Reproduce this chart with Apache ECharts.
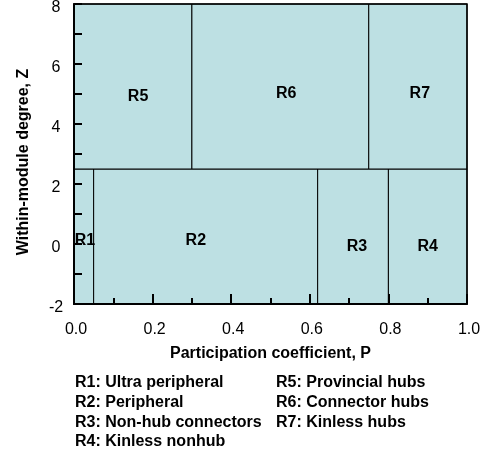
<!DOCTYPE html>
<html>
<head>
<meta charset="utf-8">
<script src="https://cdn.jsdelivr.net/npm/echarts@6/dist/echarts.min.js"></script>
<style>
html,body{margin:0;padding:0;background:#fff;}
#chart{width:487px;height:450px;}
</style>
</head>
<body>
<div id="chart"></div>
<script>
// Region data
var regionNames = ['R1', 'R2', 'R3', 'R4', 'R5', 'R6', 'R7'];
var regionX0 = [0, 0.05, 0.62, 0.80, 0, 0.30, 0.75];
var regionX1 = [0.05, 0.62, 0.80, 1.0, 0.30, 0.75, 1.0];
var regionY0 = [-2, -2, -2, -2, 2.5, 2.5, 2.5];
var regionY1 = [2.5, 2.5, 2.5, 2.5, 8, 8, 8];
var labelX = [0.028, 0.31, 0.72, 0.90, 0.163, 0.54, 0.88];
var labelY = [0.1, 0.13, -0.07, -0.07, 4.9, 5.03, 5.03];
var regionDescriptions = ['Ultra peripheral', 'Peripheral', 'Non-hub connectors', 'Kinless nonhub',
  'Provincial hubs', 'Connector hubs', 'Kinless hubs'];
var xTicks = [0, 0.2, 0.4, 0.6, 0.8, 1.0];
var yTicks = [-2, 0, 2, 4, 6, 8];

var FONT = 'Liberation Sans';
var chart = echarts.init(document.getElementById('chart'));

var rects = regionNames.map(function (n, i) {
  return [regionX0[i], regionY0[i], regionX1[i], regionY1[i]];
});
var labels = regionNames.map(function (n, i) {
  return [labelX[i], labelY[i], i];
});

var legendGraphics = [];
var leftCol = [0, 1, 2, 3], rightCol = [4, 5, 6];
leftCol.forEach(function (idx, r) {
  legendGraphics.push({ type: 'text', left: 75, top: 375 + r * 19.6,
    style: { text: regionNames[idx] + ': ' + regionDescriptions[idx], font: 'bold 16px "' + FONT + '"', fill: '#000' } });
});
rightCol.forEach(function (idx, r) {
  legendGraphics.push({ type: 'text', left: 276, top: 375 + r * 19.6,
    style: { text: regionNames[idx] + ': ' + regionDescriptions[idx], font: 'bold 16px "' + FONT + '"', fill: '#000' } });
});

chart.setOption({
  animation: false,
  backgroundColor: '#fff',
  textStyle: { fontFamily: FONT },
  grid: { left: 74, right: 20, top: 4, bottom: 146, show: true, borderColor: '#000', borderWidth: 1.5, backgroundColor: 'transparent', z: 5 },
  xAxis: {
    type: 'value', min: xTicks[0], max: xTicks[xTicks.length - 1], interval: 0.2, z: 5,
    name: 'Participation coefficient, P', nameLocation: 'middle', nameGap: 42,
    nameTextStyle: { fontFamily: FONT, fontWeight: 'bold', fontSize: 16, color: '#000' },
    axisLine: { show: true, onZero: false, lineStyle: { color: '#000', width: 2 } },
    axisTick: { show: true, inside: true, length: 10, lineStyle: { color: '#000', width: 2 } },
    minorTick: { show: true, splitNumber: 2, length: 6, lineStyle: { color: '#000', width: 2 } },
    axisLabel: { fontFamily: FONT, fontSize: 16, color: '#000', margin: 18, padding: [0, 0, 0, 4],
      formatter: function (v) { return v.toFixed(1); } },
    splitLine: { show: false }
  },
  yAxis: {
    type: 'value', min: yTicks[0], max: yTicks[yTicks.length - 1], interval: 2, z: 5,
    name: 'Within-module degree, Z', nameLocation: 'middle', nameGap: 42,
    nameTextStyle: { fontFamily: FONT, fontWeight: 'bold', fontSize: 16, color: '#000', padding: [0, 16, 0, 0] },
    axisLine: { show: true, onZero: false, lineStyle: { color: '#000', width: 2 } },
    axisTick: { show: true, inside: true, length: 8, lineStyle: { color: '#000', width: 2 } },
    minorTick: { show: true, splitNumber: 2, length: 8, lineStyle: { color: '#000', width: 2 } },
    axisLabel: { fontFamily: FONT, fontSize: 16, color: '#000', margin: 18, align: 'center', verticalAlign: 'top', lineHeight: 8 },
    splitLine: { show: false }
  },
  series: [
    {
      type: 'custom',
      data: rects,
      z: 1,
      renderItem: function (params, api) {
        var p0 = api.coord([api.value(0), api.value(3)]);
        var p1 = api.coord([api.value(2), api.value(1)]);
        return {
          type: 'rect',
          shape: { x: p0[0], y: p0[1], width: p1[0] - p0[0], height: p1[1] - p0[1] },
          style: { fill: '#bde0e3', stroke: '#000', lineWidth: 1 }
        };
      },
      encode: { x: [0, 2], y: [1, 3] },
      silent: true
    },
    {
      type: 'custom',
      data: labels,
      z: 3,
      renderItem: function (params, api) {
        var p = api.coord([api.value(0), api.value(1)]);
        return {
          type: 'text',
          x: p[0], y: p[1],
          style: { text: regionNames[api.value(2)], font: 'bold 16px "' + FONT + '"', fill: '#000',
            align: 'center', verticalAlign: 'middle' }
        };
      },
      encode: { x: 0, y: 1 },
      silent: true
    }
  ],
  graphic: legendGraphics
});
</script>
</body>
</html>
